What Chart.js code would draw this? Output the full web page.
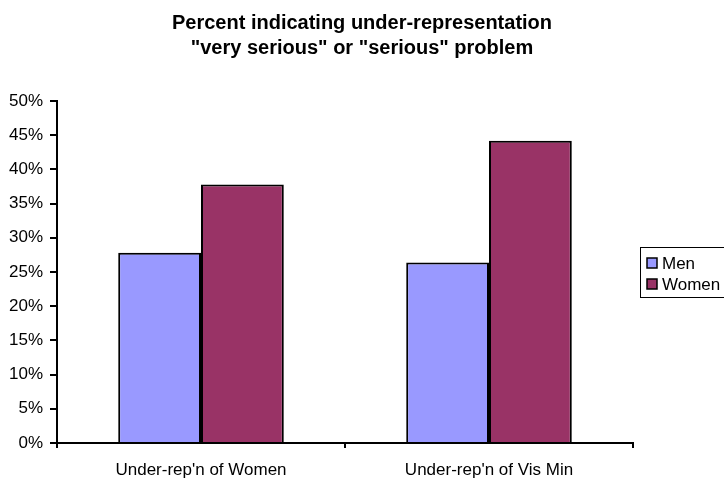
<!DOCTYPE html>
<html>
<head>
<meta charset="utf-8">
<script src="https://cdn.jsdelivr.net/npm/chart.js@4/dist/chart.umd.min.js"></script>
<style>
  html, body { margin: 0; padding: 0; background: #fff; }
  #wrap { width: 724px; height: 480px; position: relative; }
</style>
</head>
<body>
<div id="wrap"><canvas id="c" width="724" height="480"></canvas></div>
<script>
// Survey results: share answering "very serious" or "serious"
const categories = ["Under-rep'n of Women", "Under-rep'n of Vis Min"];
const menValues = [27.8, 26.4];
const womenValues = [37.8, 44.2];
const seriesNames = ["Men", "Women"];
const titleLines = ["Percent indicating under-representation", "\"very serious\" or \"serious\" problem"];

const FONT = "'Liberation Sans', Arial, sans-serif";
const colors = ["#9999FF", "#993366"];

// Two-line bold title centred over the page
const titlePlugin = {
  id: 'pageTitle',
  afterDraw(chart) {
    const ctx = chart.ctx;
    ctx.save();
    ctx.fillStyle = '#000';
    ctx.font = "bold 20px " + FONT;
    ctx.textAlign = 'center';
    ctx.textBaseline = 'alphabetic';
    ctx.fillText(titleLines[0], 362, 29);
    ctx.fillText(titleLines[1], 362, 54);
    ctx.restore();
  }
};

// Boxed legend at the right edge
const legendPlugin = {
  id: 'boxLegend',
  afterDraw(chart) {
    const ctx = chart.ctx;
    ctx.save();
    ctx.strokeStyle = '#000';
    ctx.lineWidth = 1;
    ctx.strokeRect(640.5, 247.5, 84, 50);
    ctx.font = "17px " + FONT;
    ctx.textBaseline = 'middle';
    ctx.textAlign = 'left';
    chart.data.datasets.forEach((ds, i) => {
      const y = 263 + i * 21;
      ctx.fillStyle = ds.backgroundColor;
      ctx.fillRect(647, y - 5, 10, 10);
      ctx.lineWidth = 1.5;
      ctx.strokeRect(647, y - 5, 10, 10);
      ctx.fillStyle = '#000';
      ctx.fillText(ds.label, 662, y + 1);
    });
    ctx.restore();
  }
};

new Chart(document.getElementById('c'), {
  type: 'bar',
  data: {
    labels: categories,
    datasets: [
      { label: seriesNames[0], data: menValues, backgroundColor: colors[0], borderColor: '#000', borderWidth: 2 },
      { label: seriesNames[1], data: womenValues, backgroundColor: colors[1], borderColor: '#000', borderWidth: 2 }
    ]
  },
  options: {
    responsive: false,
    animation: false,
    devicePixelRatio: 1,
    layout: { padding: { left: 0, right: 91, top: 101, bottom: 0 } },
    categoryPercentage: 0.575,
    barPercentage: 1.0,
    plugins: {
      legend: { display: false },
      title: { display: false },
      tooltip: { enabled: false }
    },
    scales: {
      x: {
        afterFit(scale) { scale.height = 37; },
        border: { display: true, color: '#000', width: 2 },
        grid: { display: true, drawOnChartArea: false, drawTicks: true, tickLength: 5, color: '#000', lineWidth: 2, offset: true },
        ticks: { color: '#000', font: { family: FONT, size: 17 }, padding: 12, maxRotation: 0 }
      },
      y: {
        min: 0,
        max: 50,
        afterFit(scale) { scale.width = 57; },
        border: { display: true, color: '#000', width: 2 },
        grid: { display: true, drawOnChartArea: false, drawTicks: true, tickLength: 7, color: '#000', lineWidth: 2 },
        ticks: {
          stepSize: 5,
          color: '#000',
          font: { family: FONT, size: 17 },
          padding: 7,
          callback: v => v + '%'
        }
      }
    }
  },
  plugins: [titlePlugin, legendPlugin]
});
</script>
</body>
</html>
